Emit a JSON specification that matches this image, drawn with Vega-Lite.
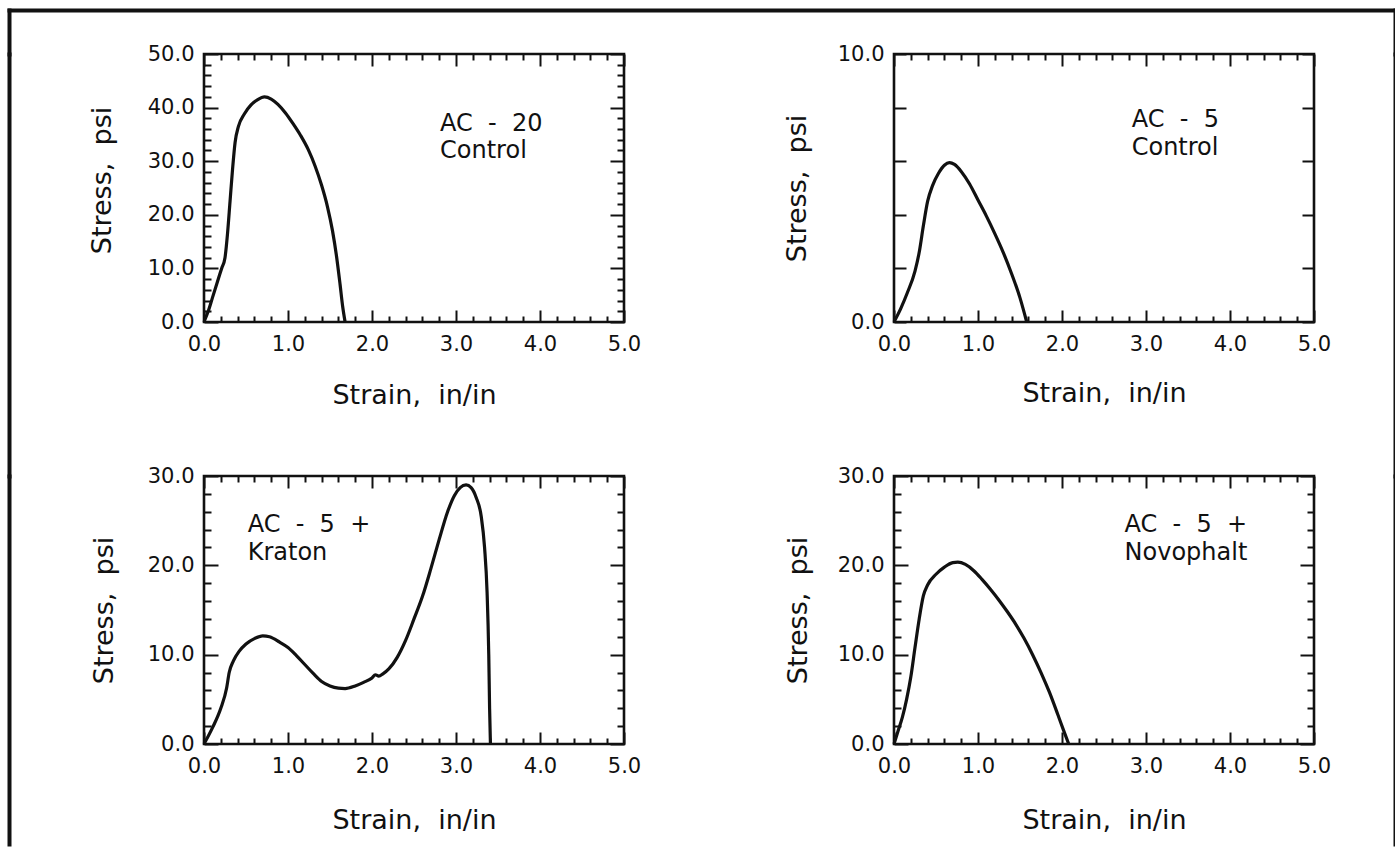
{
  "$schema": "https://vega.github.io/schema/vega-lite/v6.json",
  "background": "white",
  "padding": {"left": 6, "top": 10, "right": 0, "bottom": 0},
  "config": {
    "font": "DejaVu Sans",
    "view": {"stroke": "#111", "strokeWidth": 2.6},
    "axis": {
      "domain": false, "grid": false,
      "labelFont": "DejaVu Sans", "labelFontSize": 21, "labelColor": "#111",
      "labelFlush": false, "labelOverlap": false,
      "titleFont": "DejaVu Sans", "titleFontSize": 27, "titleFontWeight": "normal", "titleColor": "#111",
      "tickColor": "#111", "tickWidth": 2
    }
  },
  "datasets": {
    "curves": [
      {"panel": "AC-20 Control", "strain": 0, "stress": 0},
      {"panel": "AC-20 Control", "strain": 0.05, "stress": 2},
      {"panel": "AC-20 Control", "strain": 0.10, "stress": 4.5},
      {"panel": "AC-20 Control", "strain": 0.16, "stress": 7.5},
      {"panel": "AC-20 Control", "strain": 0.21, "stress": 10},
      {"panel": "AC-20 Control", "strain": 0.25, "stress": 12},
      {"panel": "AC-20 Control", "strain": 0.28, "stress": 16.5},
      {"panel": "AC-20 Control", "strain": 0.31, "stress": 22.5},
      {"panel": "AC-20 Control", "strain": 0.34, "stress": 28.5},
      {"panel": "AC-20 Control", "strain": 0.37, "stress": 33.5},
      {"panel": "AC-20 Control", "strain": 0.41, "stress": 36.5},
      {"panel": "AC-20 Control", "strain": 0.48, "stress": 38.8},
      {"panel": "AC-20 Control", "strain": 0.56, "stress": 40.5},
      {"panel": "AC-20 Control", "strain": 0.64, "stress": 41.5},
      {"panel": "AC-20 Control", "strain": 0.72, "stress": 42},
      {"panel": "AC-20 Control", "strain": 0.80, "stress": 41.6},
      {"panel": "AC-20 Control", "strain": 0.88, "stress": 40.6},
      {"panel": "AC-20 Control", "strain": 0.97, "stress": 39},
      {"panel": "AC-20 Control", "strain": 1.06, "stress": 37},
      {"panel": "AC-20 Control", "strain": 1.15, "stress": 34.8},
      {"panel": "AC-20 Control", "strain": 1.24, "stress": 32.2},
      {"panel": "AC-20 Control", "strain": 1.32, "stress": 29.2},
      {"panel": "AC-20 Control", "strain": 1.40, "stress": 25.5},
      {"panel": "AC-20 Control", "strain": 1.47, "stress": 21.5},
      {"panel": "AC-20 Control", "strain": 1.53, "stress": 17},
      {"panel": "AC-20 Control", "strain": 1.58, "stress": 12},
      {"panel": "AC-20 Control", "strain": 1.62, "stress": 7},
      {"panel": "AC-20 Control", "strain": 1.65, "stress": 3},
      {"panel": "AC-20 Control", "strain": 1.68, "stress": 0},

      {"panel": "AC-5 Control", "strain": 0, "stress": 0},
      {"panel": "AC-5 Control", "strain": 0.08, "stress": 0.5},
      {"panel": "AC-5 Control", "strain": 0.16, "stress": 1.1},
      {"panel": "AC-5 Control", "strain": 0.25, "stress": 1.9},
      {"panel": "AC-5 Control", "strain": 0.30, "stress": 2.6},
      {"panel": "AC-5 Control", "strain": 0.35, "stress": 3.6},
      {"panel": "AC-5 Control", "strain": 0.40, "stress": 4.5},
      {"panel": "AC-5 Control", "strain": 0.46, "stress": 5.1},
      {"panel": "AC-5 Control", "strain": 0.53, "stress": 5.55},
      {"panel": "AC-5 Control", "strain": 0.60, "stress": 5.85},
      {"panel": "AC-5 Control", "strain": 0.66, "stress": 5.95},
      {"panel": "AC-5 Control", "strain": 0.72, "stress": 5.88},
      {"panel": "AC-5 Control", "strain": 0.80, "stress": 5.62},
      {"panel": "AC-5 Control", "strain": 0.90, "stress": 5.15},
      {"panel": "AC-5 Control", "strain": 1.00, "stress": 4.55},
      {"panel": "AC-5 Control", "strain": 1.10, "stress": 3.95},
      {"panel": "AC-5 Control", "strain": 1.20, "stress": 3.3},
      {"panel": "AC-5 Control", "strain": 1.30, "stress": 2.6},
      {"panel": "AC-5 Control", "strain": 1.40, "stress": 1.8},
      {"panel": "AC-5 Control", "strain": 1.50, "stress": 0.9},
      {"panel": "AC-5 Control", "strain": 1.58, "stress": 0},

      {"panel": "AC-5 + Kraton", "strain": 0, "stress": 0},
      {"panel": "AC-5 + Kraton", "strain": 0.10, "stress": 1.8},
      {"panel": "AC-5 + Kraton", "strain": 0.20, "stress": 4.0},
      {"panel": "AC-5 + Kraton", "strain": 0.27, "stress": 6.3},
      {"panel": "AC-5 + Kraton", "strain": 0.30, "stress": 8.0},
      {"panel": "AC-5 + Kraton", "strain": 0.35, "stress": 9.3},
      {"panel": "AC-5 + Kraton", "strain": 0.42, "stress": 10.4},
      {"panel": "AC-5 + Kraton", "strain": 0.50, "stress": 11.2},
      {"panel": "AC-5 + Kraton", "strain": 0.60, "stress": 11.8},
      {"panel": "AC-5 + Kraton", "strain": 0.70, "stress": 12.1},
      {"panel": "AC-5 + Kraton", "strain": 0.78, "stress": 12.0},
      {"panel": "AC-5 + Kraton", "strain": 0.90, "stress": 11.4},
      {"panel": "AC-5 + Kraton", "strain": 1.00, "stress": 10.8},
      {"panel": "AC-5 + Kraton", "strain": 1.10, "stress": 9.9},
      {"panel": "AC-5 + Kraton", "strain": 1.20, "stress": 8.9},
      {"panel": "AC-5 + Kraton", "strain": 1.30, "stress": 7.9},
      {"panel": "AC-5 + Kraton", "strain": 1.40, "stress": 7.0},
      {"panel": "AC-5 + Kraton", "strain": 1.50, "stress": 6.5},
      {"panel": "AC-5 + Kraton", "strain": 1.60, "stress": 6.25},
      {"panel": "AC-5 + Kraton", "strain": 1.68, "stress": 6.2},
      {"panel": "AC-5 + Kraton", "strain": 1.80, "stress": 6.5},
      {"panel": "AC-5 + Kraton", "strain": 1.90, "stress": 6.9},
      {"panel": "AC-5 + Kraton", "strain": 2.00, "stress": 7.4},
      {"panel": "AC-5 + Kraton", "strain": 2.04, "stress": 7.75},
      {"panel": "AC-5 + Kraton", "strain": 2.08, "stress": 7.6},
      {"panel": "AC-5 + Kraton", "strain": 2.13, "stress": 7.85},
      {"panel": "AC-5 + Kraton", "strain": 2.20, "stress": 8.4},
      {"panel": "AC-5 + Kraton", "strain": 2.30, "stress": 9.7},
      {"panel": "AC-5 + Kraton", "strain": 2.40, "stress": 11.6},
      {"panel": "AC-5 + Kraton", "strain": 2.50, "stress": 14.0},
      {"panel": "AC-5 + Kraton", "strain": 2.60, "stress": 16.5},
      {"panel": "AC-5 + Kraton", "strain": 2.70, "stress": 19.6},
      {"panel": "AC-5 + Kraton", "strain": 2.80, "stress": 22.9},
      {"panel": "AC-5 + Kraton", "strain": 2.90, "stress": 26.0},
      {"panel": "AC-5 + Kraton", "strain": 2.98, "stress": 27.8},
      {"panel": "AC-5 + Kraton", "strain": 3.05, "stress": 28.7},
      {"panel": "AC-5 + Kraton", "strain": 3.12, "stress": 29.0},
      {"panel": "AC-5 + Kraton", "strain": 3.18, "stress": 28.7},
      {"panel": "AC-5 + Kraton", "strain": 3.24, "stress": 27.6},
      {"panel": "AC-5 + Kraton", "strain": 3.30, "stress": 25.5},
      {"panel": "AC-5 + Kraton", "strain": 3.34, "stress": 22},
      {"panel": "AC-5 + Kraton", "strain": 3.37, "stress": 17},
      {"panel": "AC-5 + Kraton", "strain": 3.39, "stress": 10},
      {"panel": "AC-5 + Kraton", "strain": 3.40, "stress": 4},
      {"panel": "AC-5 + Kraton", "strain": 3.41, "stress": 0},

      {"panel": "AC-5 + Novophalt", "strain": 0, "stress": 0},
      {"panel": "AC-5 + Novophalt", "strain": 0.05, "stress": 1.5},
      {"panel": "AC-5 + Novophalt", "strain": 0.10, "stress": 3.0},
      {"panel": "AC-5 + Novophalt", "strain": 0.15, "stress": 5.0},
      {"panel": "AC-5 + Novophalt", "strain": 0.20, "stress": 7.5},
      {"panel": "AC-5 + Novophalt", "strain": 0.25, "stress": 10.8},
      {"panel": "AC-5 + Novophalt", "strain": 0.30, "stress": 14.0},
      {"panel": "AC-5 + Novophalt", "strain": 0.35, "stress": 16.6},
      {"panel": "AC-5 + Novophalt", "strain": 0.40, "stress": 17.8},
      {"panel": "AC-5 + Novophalt", "strain": 0.50, "stress": 19.0},
      {"panel": "AC-5 + Novophalt", "strain": 0.60, "stress": 19.8},
      {"panel": "AC-5 + Novophalt", "strain": 0.70, "stress": 20.3},
      {"panel": "AC-5 + Novophalt", "strain": 0.76, "stress": 20.35},
      {"panel": "AC-5 + Novophalt", "strain": 0.85, "stress": 20.1},
      {"panel": "AC-5 + Novophalt", "strain": 0.95, "stress": 19.4},
      {"panel": "AC-5 + Novophalt", "strain": 1.05, "stress": 18.4},
      {"panel": "AC-5 + Novophalt", "strain": 1.15, "stress": 17.3},
      {"panel": "AC-5 + Novophalt", "strain": 1.25, "stress": 16.1},
      {"panel": "AC-5 + Novophalt", "strain": 1.35, "stress": 14.8},
      {"panel": "AC-5 + Novophalt", "strain": 1.45, "stress": 13.4},
      {"panel": "AC-5 + Novophalt", "strain": 1.55, "stress": 11.8},
      {"panel": "AC-5 + Novophalt", "strain": 1.65, "stress": 10.0},
      {"panel": "AC-5 + Novophalt", "strain": 1.75, "stress": 8.0},
      {"panel": "AC-5 + Novophalt", "strain": 1.85, "stress": 5.8},
      {"panel": "AC-5 + Novophalt", "strain": 1.95, "stress": 3.3},
      {"panel": "AC-5 + Novophalt", "strain": 2.02, "stress": 1.5},
      {"panel": "AC-5 + Novophalt", "strain": 2.08, "stress": 0}
    ],
    "notes": [
      {"panel": "AC-20 Control", "label": "AC\u00a0 -\u00a0 20\nControl", "strain": 2.81, "stress": 35.7},
      {"panel": "AC-5 Control", "label": "AC\u00a0 -\u00a0 5\nControl", "strain": 2.83, "stress": 7.29},
      {"panel": "AC-5 + Kraton", "label": "AC\u00a0 -\u00a0 5\u00a0 +\nKraton", "strain": 0.52, "stress": 23.7},
      {"panel": "AC-5 + Novophalt", "label": "AC\u00a0 -\u00a0 5\u00a0 +\nNovophalt", "strain": 2.745, "stress": 23.7}
    ]
  },
  "vconcat": [
    {
      "width": 1386, "height": 44,
      "view": {"stroke": null},
      "data": {"values": [{}]},
      "layer": [
        {
          "mark": {"type": "point", "opacity": 0},
          "encoding": {
            "x": {"datum": 0, "type": "quantitative", "scale": {"domain": [0, 1]},
                  "axis": {"orient": "top", "domain": true, "domainWidth": 4, "domainCap": "square", "domainColor": "#111", "ticks": false, "labels": false, "title": null}},
            "y": {"datum": 0, "type": "quantitative", "scale": {"domain": [0, 1]},
                  "axis": {"orient": "left", "domain": true, "domainWidth": 4, "domainCap": "square", "domainColor": "#111", "ticks": false, "labels": false, "title": null}}
          }
        },
        {
          "mark": {"type": "point", "opacity": 0},
          "encoding": {
            "y": {"datum": 0, "type": "quantitative", "scale": {"domain": [0, 1]},
                  "axis": {"orient": "right", "domain": true, "domainWidth": 4, "domainCap": "square", "domainColor": "#111", "ticks": false, "labels": false, "title": null}}
          }
        }
      ],
      "resolve": {"axis": {"y": "independent"}}
    },
    {
      "columns": 5,
      "spacing": 0,
      "bounds": "flush",
      "align": "each",
      "concat": [
        {
          "width": 195, "height": 422,
          "view": {"stroke": null},
          "data": {"values": [{}]},
          "mark": {"type": "point", "opacity": 0},
          "encoding": {
            "y": {"datum": 0, "type": "quantitative", "scale": {"domain": [0, 1]},
                  "axis": {"orient": "left", "domain": true, "domainWidth": 4, "domainCap": "square", "domainColor": "#111", "ticks": false, "labels": false, "title": null}}
          }
        },
        {
          "width": 420, "height": 268,
          "layer": [
            {
              "data": {"name": "curves"}, "transform": [{"filter": "datum.panel === 'AC-20 Control'"}],
              "mark": {"type": "line", "interpolate": "monotone", "color": "#111", "strokeWidth": 3.2},
              "encoding": {
                "x": {"field": "strain", "type": "quantitative", "scale": {"domain": [0, 5]},
                      "axis": {"orient": "bottom", "values": [0, 1, 2, 3, 4, 5], "format": ".1f", "tickSize": -12, "labelPadding": 23, "title": "Strain,\u00a0 in/in", "titleY": 60, "titleBaseline": "top"}},
                "y": {"field": "stress", "type": "quantitative", "scale": {"domain": [0, 50]},
                      "axis": {"orient": "left", "values": [0, 10, 20, 30, 40, 50], "format": ".1f", "tickSize": -14, "labelPadding": 24, "title": "Stress,\u00a0 psi", "titleX": -94, "titleY": 126, "titleBaseline": "alphabetic", "titleAngle": 270}}
              }
            },
            {
              "data": {"name": "notes"}, "transform": [{"filter": "datum.panel === 'AC-20 Control'"}],
              "mark": {"type": "text", "align": "left", "baseline": "alphabetic", "font": "DejaVu Sans", "fontSize": 24, "lineBreak": "\n", "lineHeight": 27, "color": "#111"},
              "encoding": {
                "x": {"field": "strain", "type": "quantitative", "scale": {"domain": [0, 5]},
                      "axis": {"orient": "bottom", "values": [0.2,0.4,0.6,0.8,1.2,1.4,1.6,1.8,2.2,2.4,2.6,2.8,3.2,3.4,3.6,3.8,4.2,4.4,4.6,4.8], "tickSize": -6, "labels": false, "title": null}},
                "y": {"field": "stress", "type": "quantitative", "scale": {"domain": [0, 50]},
                      "axis": {"orient": "left", "values": [2,4,6,8,12,14,16,18,22,24,26,28,32,34,36,38,42,44,46,48], "tickSize": -7, "labels": false, "title": null}},
                "text": {"field": "label"}
              }
            },
            {
              "data": {"name": "curves"}, "transform": [{"filter": "datum.panel === 'AC-20 Control'"}],
              "mark": {"type": "line", "opacity": 0},
              "encoding": {
                "x": {"field": "strain", "type": "quantitative", "scale": {"domain": [0, 5]},
                      "axis": {"orient": "top", "values": [0, 1, 2, 3, 4, 5], "tickSize": -12, "labels": false, "title": null}},
                "y": {"field": "stress", "type": "quantitative", "scale": {"domain": [0, 50]},
                      "axis": {"orient": "right", "values": [0, 10, 20, 30, 40, 50], "tickSize": -14, "labels": false, "title": null}}
              }
            },
            {
              "data": {"name": "curves"}, "transform": [{"filter": "datum.panel === 'AC-20 Control'"}],
              "mark": {"type": "line", "opacity": 0},
              "encoding": {
                "x": {"field": "strain", "type": "quantitative", "scale": {"domain": [0, 5]},
                      "axis": {"orient": "top", "values": [0.2,0.4,0.6,0.8,1.2,1.4,1.6,1.8,2.2,2.4,2.6,2.8,3.2,3.4,3.6,3.8,4.2,4.4,4.6,4.8], "tickSize": -6, "labels": false, "title": null}},
                "y": {"field": "stress", "type": "quantitative", "scale": {"domain": [0, 50]},
                      "axis": {"orient": "right", "values": [2,4,6,8,12,14,16,18,22,24,26,28,32,34,36,38,42,44,46,48], "tickSize": -7, "labels": false, "title": null}}
              }
            }
          ],
          "resolve": {"axis": {"x": "independent", "y": "independent"}}
        },
        {
          "width": 270, "height": 10,
          "view": {"stroke": null},
          "data": {"values": [{}]},
          "mark": {"type": "point", "opacity": 0}
        },
        {
          "width": 420, "height": 268,
          "layer": [
            {
              "data": {"name": "curves"}, "transform": [{"filter": "datum.panel === 'AC-5 Control'"}],
              "mark": {"type": "line", "interpolate": "monotone", "color": "#111", "strokeWidth": 3.2},
              "encoding": {
                "x": {"field": "strain", "type": "quantitative", "scale": {"domain": [0, 5]},
                      "axis": {"orient": "bottom", "values": [0, 1, 2, 3, 4, 5], "format": ".1f", "tickSize": -12, "labelPadding": 23, "title": "Strain,\u00a0 in/in", "titleY": 58, "titleBaseline": "top"}},
                "y": {"field": "stress", "type": "quantitative", "scale": {"domain": [0, 10]},
                      "axis": {"orient": "left", "values": [0, 2, 4, 6, 8, 10], "format": ".1f", "labelExpr": "datum.value % 10 === 0 ? datum.label : ''", "tickSize": -12, "labelPadding": 22, "title": "Stress,\u00a0 psi", "titleX": -89, "titleBaseline": "alphabetic", "titleAngle": 270}}
              }
            },
            {
              "data": {"name": "notes"}, "transform": [{"filter": "datum.panel === 'AC-5 Control'"}],
              "mark": {"type": "text", "align": "left", "baseline": "alphabetic", "font": "DejaVu Sans", "fontSize": 24, "lineBreak": "\n", "lineHeight": 28, "color": "#111"},
              "encoding": {
                "x": {"field": "strain", "type": "quantitative", "scale": {"domain": [0, 5]},
                      "axis": {"orient": "bottom", "values": [0.2,0.4,0.6,0.8,1.2,1.4,1.6,1.8,2.2,2.4,2.6,2.8,3.2,3.4,3.6,3.8,4.2,4.4,4.6,4.8], "tickSize": -6, "labels": false, "title": null}},
                "y": {"field": "stress", "type": "quantitative", "scale": {"domain": [0, 10]}, "axis": null},
                "text": {"field": "label"}
              }
            },
            {
              "data": {"name": "curves"}, "transform": [{"filter": "datum.panel === 'AC-5 Control'"}],
              "mark": {"type": "line", "opacity": 0},
              "encoding": {
                "x": {"field": "strain", "type": "quantitative", "scale": {"domain": [0, 5]},
                      "axis": {"orient": "top", "values": [0, 1, 2, 3, 4, 5], "tickSize": -12, "labels": false, "title": null}},
                "y": {"field": "stress", "type": "quantitative", "scale": {"domain": [0, 10]},
                      "axis": {"orient": "right", "values": [0, 2, 4, 6, 8, 10], "tickSize": -12, "labels": false, "title": null}}
              }
            },
            {
              "data": {"name": "curves"}, "transform": [{"filter": "datum.panel === 'AC-5 Control'"}],
              "mark": {"type": "line", "opacity": 0},
              "encoding": {
                "x": {"field": "strain", "type": "quantitative", "scale": {"domain": [0, 5]},
                      "axis": {"orient": "top", "values": [0.2,0.4,0.6,0.8,1.2,1.4,1.6,1.8,2.2,2.4,2.6,2.8,3.2,3.4,3.6,3.8,4.2,4.4,4.6,4.8], "tickSize": -6, "labels": false, "title": null}},
                "y": {"field": "stress", "type": "quantitative", "scale": {"domain": [0, 10]}, "axis": null}
              }
            }
          ],
          "resolve": {"axis": {"x": "independent", "y": "independent"}}
        },
        {
          "width": 81, "height": 422,
          "view": {"stroke": null},
          "data": {"values": [{}]},
          "mark": {"type": "point", "opacity": 0},
          "encoding": {
            "y": {"datum": 0, "type": "quantitative", "scale": {"domain": [0, 1]},
                  "axis": {"orient": "right", "domain": true, "domainWidth": 4, "domainCap": "square", "domainColor": "#111", "ticks": false, "labels": false, "title": null}}
          }
        },
        {
          "width": 195, "height": 368,
          "view": {"stroke": null},
          "data": {"values": [{}]},
          "mark": {"type": "point", "opacity": 0},
          "encoding": {
            "y": {"datum": 0, "type": "quantitative", "scale": {"domain": [0, 1]},
                  "axis": {"orient": "left", "domain": true, "domainWidth": 4, "domainCap": "square", "domainColor": "#111", "ticks": false, "labels": false, "title": null}}
          }
        },
        {
          "width": 420, "height": 268,
          "layer": [
            {
              "data": {"name": "curves"}, "transform": [{"filter": "datum.panel === 'AC-5 + Kraton'"}],
              "mark": {"type": "line", "interpolate": "monotone", "color": "#111", "strokeWidth": 3.2},
              "encoding": {
                "x": {"field": "strain", "type": "quantitative", "scale": {"domain": [0, 5]},
                      "axis": {"orient": "bottom", "values": [0, 1, 2, 3, 4, 5], "format": ".1f", "tickSize": -12, "labelPadding": 23, "title": "Strain,\u00a0 in/in", "titleY": 63, "titleBaseline": "top"}},
                "y": {"field": "stress", "type": "quantitative", "scale": {"domain": [0, 30]},
                      "axis": {"orient": "left", "values": [0, 10, 20, 30], "format": ".1f", "tickSize": -14, "labelPadding": 24, "title": "Stress,\u00a0 psi", "titleX": -92, "titleBaseline": "alphabetic", "titleAngle": 270}}
              }
            },
            {
              "data": {"name": "notes"}, "transform": [{"filter": "datum.panel === 'AC-5 + Kraton'"}],
              "mark": {"type": "text", "align": "left", "baseline": "alphabetic", "font": "DejaVu Sans", "fontSize": 24, "lineBreak": "\n", "lineHeight": 28, "color": "#111"},
              "encoding": {
                "x": {"field": "strain", "type": "quantitative", "scale": {"domain": [0, 5]},
                      "axis": {"orient": "bottom", "values": [0.2,0.4,0.6,0.8,1.2,1.4,1.6,1.8,2.2,2.4,2.6,2.8,3.2,3.4,3.6,3.8,4.2,4.4,4.6,4.8], "tickSize": -6, "labels": false, "title": null}},
                "y": {"field": "stress", "type": "quantitative", "scale": {"domain": [0, 30]},
                      "axis": {"orient": "left", "values": [2,4,6,8,12,14,16,18,22,24,26,28], "tickSize": -7, "labels": false, "title": null}},
                "text": {"field": "label"}
              }
            },
            {
              "data": {"name": "curves"}, "transform": [{"filter": "datum.panel === 'AC-5 + Kraton'"}],
              "mark": {"type": "line", "opacity": 0},
              "encoding": {
                "x": {"field": "strain", "type": "quantitative", "scale": {"domain": [0, 5]},
                      "axis": {"orient": "top", "values": [0, 1, 2, 3, 4, 5], "tickSize": -12, "labels": false, "title": null}},
                "y": {"field": "stress", "type": "quantitative", "scale": {"domain": [0, 30]},
                      "axis": {"orient": "right", "values": [0, 10, 20, 30], "tickSize": -14, "labels": false, "title": null}}
              }
            },
            {
              "data": {"name": "curves"}, "transform": [{"filter": "datum.panel === 'AC-5 + Kraton'"}],
              "mark": {"type": "line", "opacity": 0},
              "encoding": {
                "x": {"field": "strain", "type": "quantitative", "scale": {"domain": [0, 5]},
                      "axis": {"orient": "top", "values": [0.2,0.4,0.6,0.8,1.2,1.4,1.6,1.8,2.2,2.4,2.6,2.8,3.2,3.4,3.6,3.8,4.2,4.4,4.6,4.8], "tickSize": -6, "labels": false, "title": null}},
                "y": {"field": "stress", "type": "quantitative", "scale": {"domain": [0, 30]},
                      "axis": {"orient": "right", "values": [2,4,6,8,12,14,16,18,22,24,26,28], "tickSize": -7, "labels": false, "title": null}}
              }
            }
          ],
          "resolve": {"axis": {"x": "independent", "y": "independent"}}
        },
        {
          "width": 270, "height": 10,
          "view": {"stroke": null},
          "data": {"values": [{}]},
          "mark": {"type": "point", "opacity": 0}
        },
        {
          "width": 420, "height": 268,
          "layer": [
            {
              "data": {"name": "curves"}, "transform": [{"filter": "datum.panel === 'AC-5 + Novophalt'"}],
              "mark": {"type": "line", "interpolate": "monotone", "color": "#111", "strokeWidth": 3.2},
              "encoding": {
                "x": {"field": "strain", "type": "quantitative", "scale": {"domain": [0, 5]},
                      "axis": {"orient": "bottom", "values": [0, 1, 2, 3, 4, 5], "format": ".1f", "tickSize": -12, "labelPadding": 23, "title": "Strain,\u00a0 in/in", "titleY": 63, "titleBaseline": "top"}},
                "y": {"field": "stress", "type": "quantitative", "scale": {"domain": [0, 30]},
                      "axis": {"orient": "left", "values": [0, 10, 20, 30], "format": ".1f", "tickSize": -14, "labelPadding": 24, "title": "Stress,\u00a0 psi", "titleX": -88, "titleBaseline": "alphabetic", "titleAngle": 270}}
              }
            },
            {
              "data": {"name": "notes"}, "transform": [{"filter": "datum.panel === 'AC-5 + Novophalt'"}],
              "mark": {"type": "text", "align": "left", "baseline": "alphabetic", "font": "DejaVu Sans", "fontSize": 24, "lineBreak": "\n", "lineHeight": 28, "color": "#111"},
              "encoding": {
                "x": {"field": "strain", "type": "quantitative", "scale": {"domain": [0, 5]},
                      "axis": {"orient": "bottom", "values": [0.2,0.4,0.6,0.8,1.2,1.4,1.6,1.8,2.2,2.4,2.6,2.8,3.2,3.4,3.6,3.8,4.2,4.4,4.6,4.8], "tickSize": -6, "labels": false, "title": null}},
                "y": {"field": "stress", "type": "quantitative", "scale": {"domain": [0, 30]},
                      "axis": {"orient": "left", "values": [2,4,6,8,12,14,16,18,22,24,26,28], "tickSize": -7, "labels": false, "title": null}},
                "text": {"field": "label"}
              }
            },
            {
              "data": {"name": "curves"}, "transform": [{"filter": "datum.panel === 'AC-5 + Novophalt'"}],
              "mark": {"type": "line", "opacity": 0},
              "encoding": {
                "x": {"field": "strain", "type": "quantitative", "scale": {"domain": [0, 5]},
                      "axis": {"orient": "top", "values": [0, 1, 2, 3, 4, 5], "tickSize": -12, "labels": false, "title": null}},
                "y": {"field": "stress", "type": "quantitative", "scale": {"domain": [0, 30]},
                      "axis": {"orient": "right", "values": [0, 10, 20, 30], "tickSize": -14, "labels": false, "title": null}}
              }
            },
            {
              "data": {"name": "curves"}, "transform": [{"filter": "datum.panel === 'AC-5 + Novophalt'"}],
              "mark": {"type": "line", "opacity": 0},
              "encoding": {
                "x": {"field": "strain", "type": "quantitative", "scale": {"domain": [0, 5]},
                      "axis": {"orient": "top", "values": [0.2,0.4,0.6,0.8,1.2,1.4,1.6,1.8,2.2,2.4,2.6,2.8,3.2,3.4,3.6,3.8,4.2,4.4,4.6,4.8], "tickSize": -6, "labels": false, "title": null}},
                "y": {"field": "stress", "type": "quantitative", "scale": {"domain": [0, 30]},
                      "axis": {"orient": "right", "values": [2,4,6,8,12,14,16,18,22,24,26,28], "tickSize": -7, "labels": false, "title": null}}
              }
            }
          ],
          "resolve": {"axis": {"x": "independent", "y": "independent"}}
        },
        {
          "width": 81, "height": 368,
          "view": {"stroke": null},
          "data": {"values": [{}]},
          "mark": {"type": "point", "opacity": 0},
          "encoding": {
            "y": {"datum": 0, "type": "quantitative", "scale": {"domain": [0, 1]},
                  "axis": {"orient": "right", "domain": true, "domainWidth": 4, "domainCap": "square", "domainColor": "#111", "ticks": false, "labels": false, "title": null}}
          }
        }
      ]
    }
  ],
  "spacing": 0,
  "bounds": "flush"
}
